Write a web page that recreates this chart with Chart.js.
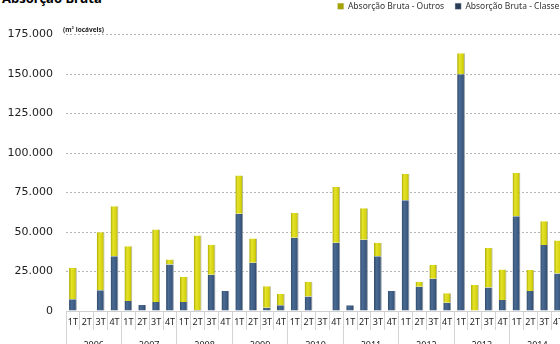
<!DOCTYPE html>
<html>
<head>
<meta charset="utf-8">
<script src="https://cdn.jsdelivr.net/npm/chart.js@4"></script>
<style>
  html, body { margin: 0; padding: 0; background: #fff; overflow: hidden; width: 560px; height: 344px; }
  #titulo { position: absolute; left: 2px; top: -8px; font: bold 13px "Noto Sans", sans-serif; line-height: 13px; color: #000; white-space: nowrap; }
  #wrap { position: absolute; left: 0; top: -9px; width: 578px; height: 367px; }
</style>
</head>
<body>
<div id="titulo">Absorção Bruta</div>
<div id="wrap"><canvas id="grafico" width="578" height="367"></canvas></div>
<script>
// trimestres e anos do eixo X
const trimestres = ['1T', '2T', '3T', '4T'];
const anos = ['2006', '2007', '2008', '2009', '2010', '2011', '2012', '2013', '2014'];

// absorção bruta por trimestre (m² locáveis), 2006-1T .. 2014-4T
const classeA = [
  7400, 0, 13100, 34700,
  6300, 3800, 5700, 29500,
  5700, 600, 23000, 12600,
  61500, 30500, 2100, 3600,
  46300, 9100, 0, 43200,
  3600, 45100, 34700, 12600,
  70100, 15400, 20400, 5300,
  149900, 0, 14800, 6900,
  60000, 12600, 41700, 23800
];
const outros = [
  20000, 0, 36800, 31600,
  34700, 0, 45900, 3100,
  16000, 47200, 18900, 0,
  24200, 15400, 13500, 7100,
  15800, 9400, 0, 35300,
  0, 19900, 8500, 0,
  16800, 3100, 8900, 5900,
  13200, 16400, 25000, 19400,
  27400, 13300, 15100, 20800
];

const rotulos = [];
anos.forEach(() => trimestres.forEach(t => rotulos.push(t)));

const LARGURA_BARRA = 0.56;

// 175000 -> "175.000"
const formatar = v => String(v).replace(/\B(?=(\d{3})+(?!\d))/g, '.');

// degradê horizontal para dar volume às barras
function degrade(cores, solida) {
  return (context) => {
    if (context.type !== 'data') return solida;
    const chart = context.chart;
    const escala = chart.scales.x;
    if (!escala || !chart.chartArea) return solida;
    const cx = escala.getPixelForValue(context.dataIndex);
    const meia = escala.width / rotulos.length * LARGURA_BARRA / 2;
    if (!isFinite(cx)) return solida;
    const g = chart.ctx.createLinearGradient(cx - meia, 0, cx + meia, 0);
    cores.forEach(([p, c]) => g.addColorStop(p, c));
    return g;
  };
}

// espaço extra entre a legenda e a área do gráfico
const espacoLegenda = {
  id: 'espacoLegenda',
  beforeInit(chart) {
    const fitOriginal = chart.legend.fit;
    chart.legend.fit = function () {
      fitOriginal.bind(chart.legend)();
      this.height += 14;
    };
  }
};

// unidade escrita acima do eixo Y
const unidade = {
  id: 'unidade',
  afterDraw(chart) {
    const { ctx, chartArea } = chart;
    ctx.save();
    ctx.font = 'bold 6.5px "Noto Sans", sans-serif';
    ctx.fillStyle = '#222';
    ctx.textAlign = 'left';
    ctx.textBaseline = 'middle';
    ctx.fillText('(m² locáveis)', chartArea.left - 3, chartArea.top - 4.5);
    ctx.restore();
  }
};

new Chart(document.getElementById('grafico'), {
  type: 'bar',
  data: {
    labels: rotulos,
    datasets: [
      {
        label: 'Absorção Bruta - Classe A',
        data: classeA,
        backgroundColor: degrade(
          [[0, '#2e4868'], [0.3, '#4a6b93'], [0.7, '#3c5a82'], [1, '#2a3e58']], '#3b577d'),
        borderColor: '#8f9aa6',
        borderWidth: { left: 0, right: 1, top: 0, bottom: 0 },
        barPercentage: LARGURA_BARRA,
        categoryPercentage: 1
      },
      {
        label: 'Absorção Bruta - Outros',
        data: outros,
        backgroundColor: degrade(
          [[0, '#aaa800'], [0.3, '#e4e32a'], [0.7, '#d6d410'], [1, '#a5a300']], '#d2d016'),
        borderColor: '#b6b59a',
        borderWidth: { left: 0, right: 1, top: 0, bottom: 0 },
        barPercentage: LARGURA_BARRA,
        categoryPercentage: 1
      }
    ]
  },
  options: {
    responsive: false,
    animation: false,
    devicePixelRatio: 1,
    layout: { padding: 0 },
    scales: {
      x: {
        stacked: true,
        weight: 0,
        grid: { drawOnChartArea: false, offset: true, tickLength: 19, color: '#d4d4d4' },
        border: { display: true, color: '#cfcfcf' },
        ticks: {
          autoSkip: false, maxRotation: 0, minRotation: 0, padding: -13,
          color: '#222', font: { family: '"Noto Sans", sans-serif', size: 9 }
        },
        afterFit(scale) { scale.height = 17; }
      },
      anos: {
        type: 'category',
        position: 'bottom',
        labels: anos,
        offset: true,
        weight: 1,
        grid: { drawOnChartArea: false, offset: true, tickLength: 20, color: '#d4d4d4' },
        border: { display: false },
        ticks: {
          autoSkip: false, maxRotation: 0, minRotation: 0, padding: -8,
          color: '#222', font: { family: '"Noto Sans", sans-serif', size: 9 }
        },
        afterFit(scale) { scale.height = 30; }
      },
      y: {
        stacked: true,
        min: 0,
        max: 175000,
        ticks: {
          stepSize: 25000, padding: 13, color: '#222',
          font: { family: '"DejaVu Sans", sans-serif', size: 11 },
          callback: v => formatar(v)
        },
        grid: { drawTicks: false, color: '#b4b4b4' },
        border: { display: false, dash: [2, 2] },
        afterFit(scale) { scale.width = 66; }
      },
      direita: {
        type: 'linear',
        position: 'right',
        ticks: { display: false },
        grid: { display: false },
        border: { display: false },
        afterFit(scale) { scale.width = 13; }
      }
    },
    plugins: {
      title: { display: false },
      tooltip: { enabled: false },
      legend: {
        display: true,
        position: 'top',
        align: 'end',
        reverse: true,
        labels: {
          boxWidth: 6, boxHeight: 6, padding: 11, color: '#333',
          font: { family: '"Noto Sans", sans-serif', size: 8.5 }
        }
      }
    }
  },
  plugins: [espacoLegenda, unidade]
});
</script>
</body>
</html>
